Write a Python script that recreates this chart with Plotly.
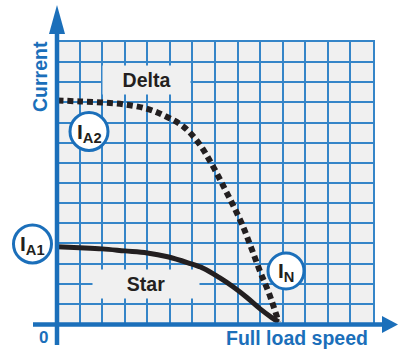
import plotly.graph_objects as go

# ---- data (grid units: 14 x 14 cells) ----
delta_x = [0, 1, 2, 3, 4, 4.8, 5.6, 6.3, 6.9, 7.4, 7.8, 8.2, 8.6, 9.0, 9.4, 9.82]
delta_y = [11.1, 11.05, 11.0, 10.9, 10.68, 10.32, 9.8, 8.95, 7.85, 6.78, 5.9, 4.95, 3.8, 2.6, 1.5, 0.1]
star_x = [0, 1, 2, 3, 4, 4.9, 5.8, 6.5, 7.2, 7.8, 8.4, 9.0, 9.5, 9.82]
star_y = [3.84, 3.79, 3.73, 3.63, 3.53, 3.34, 3.04, 2.76, 2.3, 1.85, 1.33, 0.75, 0.33, 0.1]
origin_label = "0"
x_title = "Full load speed"
y_title = "Current"

W, H = 398, 351
ML, MR, MT, MB = 57, 25, 42, 27
PW, PH = W - ML - MR, H - MT - MB
BLUE = "#1b6fba"
GRID = "#3585c8"
DARK = "#231f20"
FONT = "Liberation Sans, Arial, sans-serif"


def px(x):
    return (x - ML) / PW


def py(y):
    return 1 - (y - MT) / PH


fig = go.Figure()
fig.add_trace(go.Scatter(x=delta_x, y=delta_y, mode="lines", line_shape="spline",
                         line=dict(color=DARK, width=6, dash="6px,4px"), hoverinfo="skip"))
fig.add_trace(go.Scatter(x=star_x, y=star_y, mode="lines", line_shape="spline",
                         line=dict(color=DARK, width=5), hoverinfo="skip"))

shapes = []
# axes
shapes.append(dict(type="line", xref="paper", yref="paper", x0=px(57), x1=px(57), y0=py(345), y1=py(30),
                   line=dict(color=BLUE, width=4.5), layer="above"))
shapes.append(dict(type="path", xref="paper", yref="paper",
                   path=f"M {px(49)} {py(34)} L {px(57)} {py(5)} L {px(65)} {py(34)} Z",
                   fillcolor=BLUE, line=dict(color=BLUE, width=0), layer="above"))
shapes.append(dict(type="line", xref="paper", yref="paper", x0=px(33), x1=px(385), y0=py(324.5), y1=py(324.5),
                   line=dict(color=BLUE, width=4.5), layer="above"))
shapes.append(dict(type="path", xref="paper", yref="paper",
                   path=f"M {px(382)} {py(316)} L {px(398)} {py(324.5)} L {px(382)} {py(333)} Z",
                   fillcolor=BLUE, line=dict(color=BLUE, width=0), layer="above"))

# circles
circles = [(89, 131.5, 19, "I<sub>A2</sub>"), (32.5, 244, 19, "I<sub>A1</sub>"), (286, 271, 18, "I<sub>N</sub>")]
annotations = []
for cx, cy, r, label in circles:
    shapes.append(dict(type="circle", xref="paper", yref="paper",
                       x0=px(cx - r), x1=px(cx + r), y0=py(cy + r), y1=py(cy - r),
                       fillcolor="white", line=dict(color=BLUE, width=3), layer="above"))
    annotations.append(dict(x=px(cx), y=py(cy + 1), xref="paper", yref="paper", text=label, showarrow=False,
                            font=dict(family=FONT, size=21, color=DARK, weight="bold"),
                            xanchor="center", yanchor="middle"))

# text labels with grid-masking backgrounds
annotations.append(dict(x=px(146.5), y=py(80), xref="paper", yref="paper", text="<b>Delta</b>", showarrow=False,
                        font=dict(family=FONT, size=19.5, color=DARK), bgcolor="#f0f0f0",
                        width=85, height=26, xanchor="center", yanchor="middle"))
annotations.append(dict(x=px(146), y=py(283.5), xref="paper", yref="paper", text="<b>Star</b>", showarrow=False,
                        font=dict(family=FONT, size=19.5, color=DARK), bgcolor="#f0f0f0",
                        width=104, height=26, xanchor="center", yanchor="middle"))
annotations.append(dict(x=px(297), y=py(338), xref="paper", yref="paper", text=f"<b>{x_title}</b>", showarrow=False,
                        font=dict(family=FONT, size=19.5, color=BLUE), xanchor="center", yanchor="middle"))
annotations.append(dict(x=px(40), y=py(77), xref="paper", yref="paper", text=f"<b>{y_title}</b>", showarrow=False,
                        textangle=-90, font=dict(family=FONT, size=19.5, color=BLUE),
                        xanchor="center", yanchor="middle"))
annotations.append(dict(x=px(43), y=py(337), xref="paper", yref="paper", text=f"<b>{origin_label}</b>", showarrow=False,
                        font=dict(family=FONT, size=17, color=BLUE), xanchor="center", yanchor="middle"))

axis_common = dict(range=[0, 14], dtick=1, tick0=0, showgrid=True, gridcolor=GRID, gridwidth=1.5,
                   zeroline=False, showticklabels=False, ticks="", showline=True, mirror=True,
                   linecolor=GRID, linewidth=1.5, fixedrange=True)
fig.update_layout(
    width=W, height=H, margin=dict(l=ML, r=MR, t=MT, b=MB),
    paper_bgcolor="white", plot_bgcolor="#f0f0f0", showlegend=False,
    xaxis=axis_common, yaxis=axis_common,
    shapes=shapes, annotations=annotations,
)
fig.write_html("out.html", config={"displayModeBar": False},
               post_script="document.body.style.margin='0';document.body.style.overflow='hidden';")
